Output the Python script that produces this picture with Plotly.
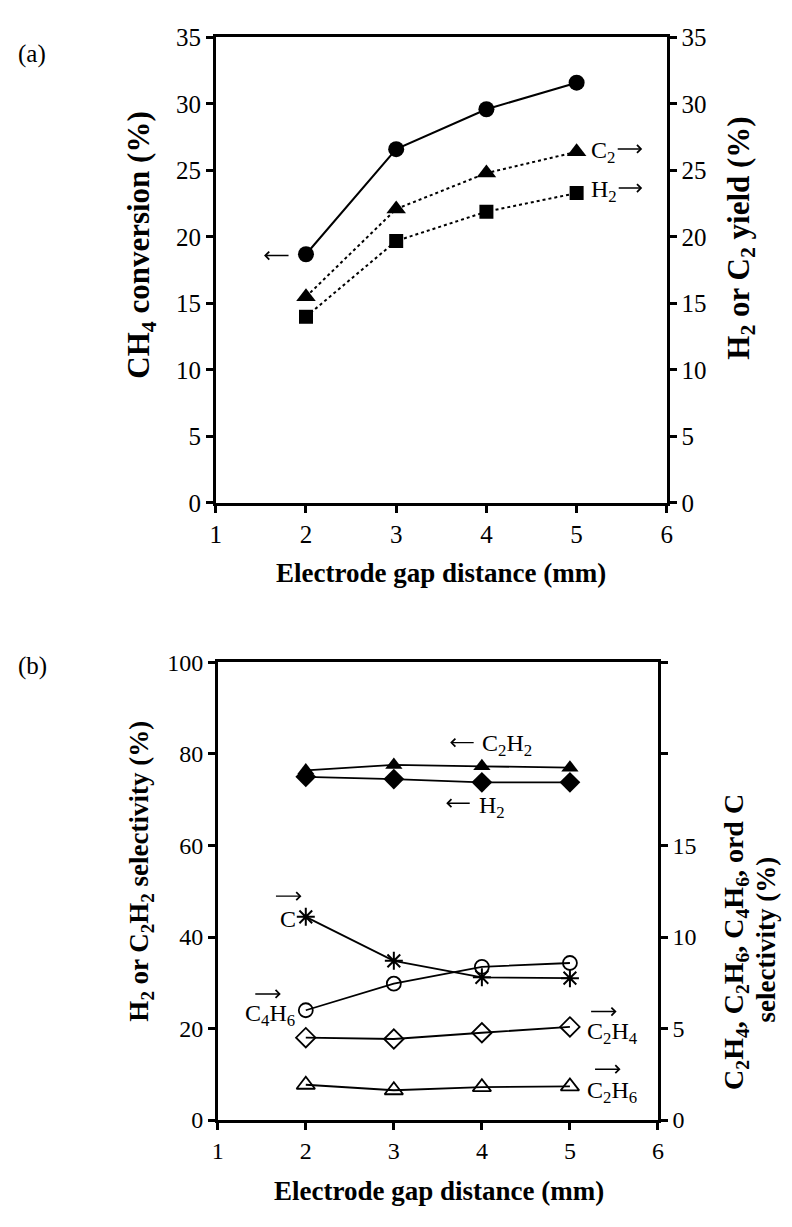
import plotly.graph_objects as go

# ---------------- data ----------------
gap_mm = [2, 3, 4, 5]

# panel (a)
ch4_conversion = [18.7, 26.6, 29.6, 31.6]
c2_yield = [15.5, 22.1, 24.8, 26.4]
h2_yield = [14.0, 19.7, 21.9, 23.3]

# panel (b)
c2h2_sel = [76.4, 77.6, 77.3, 77.0]
h2_sel = [75.0, 74.5, 73.8, 73.8]
c_sel = [11.1, 8.7, 7.8, 7.75]
c4h6_sel = [6.0, 7.45, 8.37, 8.58]
c2h4_sel = [4.5, 4.43, 4.77, 5.09]
c2h6_sel = [1.93, 1.63, 1.8, 1.84]

x_ticks = [1, 2, 3, 4, 5, 6]
a_ticks = [0, 5, 10, 15, 20, 25, 30, 35]
b_left_ticks = [0, 20, 40, 60, 80, 100]
b_right_ticks = [0, 5, 10, 15, 20, 25]
b_right_text = ["0", "5", "10", "15", "", ""]

W, H = 792, 1227
FONT = "Liberation Serif, Times New Roman, serif"


def px(x):
    return x / W


def py(y):
    return 1 - y / H


fig = go.Figure()

# ---- panel (a) ----
fig.add_trace(go.Scatter(x=gap_mm, y=ch4_conversion, mode="lines+markers",
                         line=dict(color="black", width=2),
                         marker=dict(symbol="circle", size=16, color="black"),
                         xaxis="x", yaxis="y", showlegend=False))
fig.add_trace(go.Scatter(x=gap_mm, y=c2_yield, mode="lines+markers",
                         line=dict(color="black", width=2, dash="dot"),
                         marker=dict(symbol="triangle-up", size=17, color="black"),
                         xaxis="x", yaxis="y2", showlegend=False))
fig.add_trace(go.Scatter(x=gap_mm, y=h2_yield, mode="lines+markers",
                         line=dict(color="black", width=2, dash="dot"),
                         marker=dict(symbol="square", size=14, color="black"),
                         xaxis="x", yaxis="y2", showlegend=False))

# ---- panel (b) ----
fig.add_trace(go.Scatter(x=gap_mm, y=c2h2_sel, mode="lines+markers",
                         line=dict(color="black", width=1.8),
                         marker=dict(symbol="triangle-up", size=15, color="black"),
                         xaxis="x2", yaxis="y3", showlegend=False))
fig.add_trace(go.Scatter(x=gap_mm, y=h2_sel, mode="lines+markers",
                         line=dict(color="black", width=1.8),
                         marker=dict(symbol="diamond", size=16, color="black"),
                         xaxis="x2", yaxis="y3", showlegend=False))
fig.add_trace(go.Scatter(x=gap_mm, y=c_sel, mode="lines+markers",
                         line=dict(color="black", width=1.8),
                         marker=dict(symbol="asterisk-open", size=15, color="black",
                                     line=dict(color="black", width=2)),
                         xaxis="x2", yaxis="y4", showlegend=False))
fig.add_trace(go.Scatter(x=gap_mm, y=c4h6_sel, mode="lines+markers",
                         line=dict(color="black", width=1.8),
                         marker=dict(symbol="circle-open", size=14, color="black",
                                     line=dict(color="black", width=1.8)),
                         xaxis="x2", yaxis="y4", showlegend=False))
fig.add_trace(go.Scatter(x=gap_mm, y=c2h4_sel, mode="lines+markers",
                         line=dict(color="black", width=1.8),
                         marker=dict(symbol="diamond-open", size=15, color="black",
                                     line=dict(color="black", width=1.8)),
                         xaxis="x2", yaxis="y4", showlegend=False))
fig.add_trace(go.Scatter(x=gap_mm, y=c2h6_sel, mode="lines+markers",
                         line=dict(color="black", width=1.8),
                         marker=dict(symbol="triangle-up-open", size=16, color="black",
                                     line=dict(color="black", width=1.8)),
                         xaxis="x2", yaxis="y4", showlegend=False))

TICK_A = dict(family=FONT, size=25, color="black")
TICK_B = dict(family=FONT, size=24, color="black")


def axis_common(tf):
    return dict(showline=True, linecolor="black", linewidth=2.5,
                ticks="outside", ticklen=7, tickwidth=2.5, tickcolor="black",
                showgrid=False, zeroline=False, tickfont=tf)


dom_a_x = [px(213), px(671)]
dom_a_y = [py(501), py(25)]
dom_b_x = [px(215), px(662)]
dom_b_y = [py(1132), py(664)]

fig.update_layout(
    width=W, height=H,
    margin=dict(l=0, r=0, t=0, b=0),
    paper_bgcolor="white", plot_bgcolor="white",
    xaxis=dict(axis_common(TICK_A), domain=dom_a_x, range=[1, 6], tickvals=x_ticks,
               anchor="y", mirror=True),
    yaxis=dict(axis_common(TICK_A), domain=dom_a_y, range=[0, 35], tickvals=a_ticks,
               anchor="x"),
    yaxis2=dict(axis_common(TICK_A), range=[0, 35], tickvals=a_ticks, overlaying="y",
                side="right", anchor="x"),
    xaxis2=dict(axis_common(TICK_B), domain=dom_b_x, range=[1, 6], tickvals=x_ticks,
                anchor="y3", mirror=True),
    yaxis3=dict(axis_common(TICK_B), domain=dom_b_y, range=[0, 100],
                tickvals=b_left_ticks, anchor="x2"),
    yaxis4=dict(axis_common(TICK_B), range=[0, 25], tickvals=b_right_ticks,
                ticktext=b_right_text, overlaying="y3", side="right", anchor="x2"),
)

ann = []


def add_text(x, y, text, size=22, bold=False, angle=0, xanchor="center",
             yanchor="middle"):
    t = "<b>" + text + "</b>" if bold else text
    ann.append(dict(x=px(x), y=py(y), xref="paper", yref="paper", text=t,
                    showarrow=False, textangle=angle, xanchor=xanchor,
                    yanchor=yanchor, font=dict(family=FONT, size=size, color="black")))


def add_arrow(x_head, x_tail, y):
    ann.append(dict(x=px(x_head), y=py(y), xref="paper", yref="paper", text="",
                    showarrow=True, ax=x_tail - x_head, ay=0, arrowhead=4,
                    arrowsize=1.1, arrowwidth=1.4, arrowcolor="black", standoff=0))


# panel labels
add_text(10, 42, "(a)", size=25, xanchor="left")
add_text(10, 668, "(b)", size=25, xanchor="left")

# axis titles
add_text(137, 237, "CH<sub>4</sub> conversion (%)", size=31, bold=True, angle=-90)
add_text(746, 230, "H<sub>2</sub> or C<sub>2</sub> yield (%)", size=31, bold=True, angle=-90)
add_text(442, 573, "Electrode gap distance (mm)", size=27, bold=True)
add_text(137, 877, "H<sub>2</sub> or C<sub>2</sub>H<sub>2</sub> selectivity (%)",
         size=27, bold=True, angle=-90)
add_text(740, 950, "C<sub>2</sub>H<sub>4</sub>, C<sub>2</sub>H<sub>6</sub>, C<sub>4</sub>H<sub>6</sub>, ord C",
         size=28, bold=True, angle=-90)
add_text(772, 947, "selectivity (%)", size=27, bold=True, angle=-90)
add_text(440, 1205, "Electrode gap distance (mm)", size=27, bold=True)

# panel (a) series labels
add_arrow(262, 288, 248)
add_text(592, 142, "C<sub>2</sub>", size=24, xanchor="left")
add_arrow(646, 620, 139)
add_text(592, 182, "H<sub>2</sub>", size=24, xanchor="left")
add_arrow(646, 621, 179)

# panel (b) series labels
add_arrow(451, 476, 746)
add_text(481, 748, "C<sub>2</sub>H<sub>2</sub>", size=24, xanchor="left")
add_arrow(447, 472, 808)
add_text(478, 812, "H<sub>2</sub>", size=24, xanchor="left")
add_arrow(300, 273, 903)
add_text(286, 926, "C", size=24)
add_arrow(279, 252, 1003)
add_text(268, 1025, "C<sub>4</sub>H<sub>6</sub>", size=24)
add_arrow(620, 593, 1021)
add_text(588, 1043, "C<sub>2</sub>H<sub>4</sub>", size=24, xanchor="left")
add_arrow(624, 597, 1080)
add_text(588, 1103, "C<sub>2</sub>H<sub>6</sub>", size=24, xanchor="left")

fig.update_layout(annotations=ann)

fig.write_html("out.html")
